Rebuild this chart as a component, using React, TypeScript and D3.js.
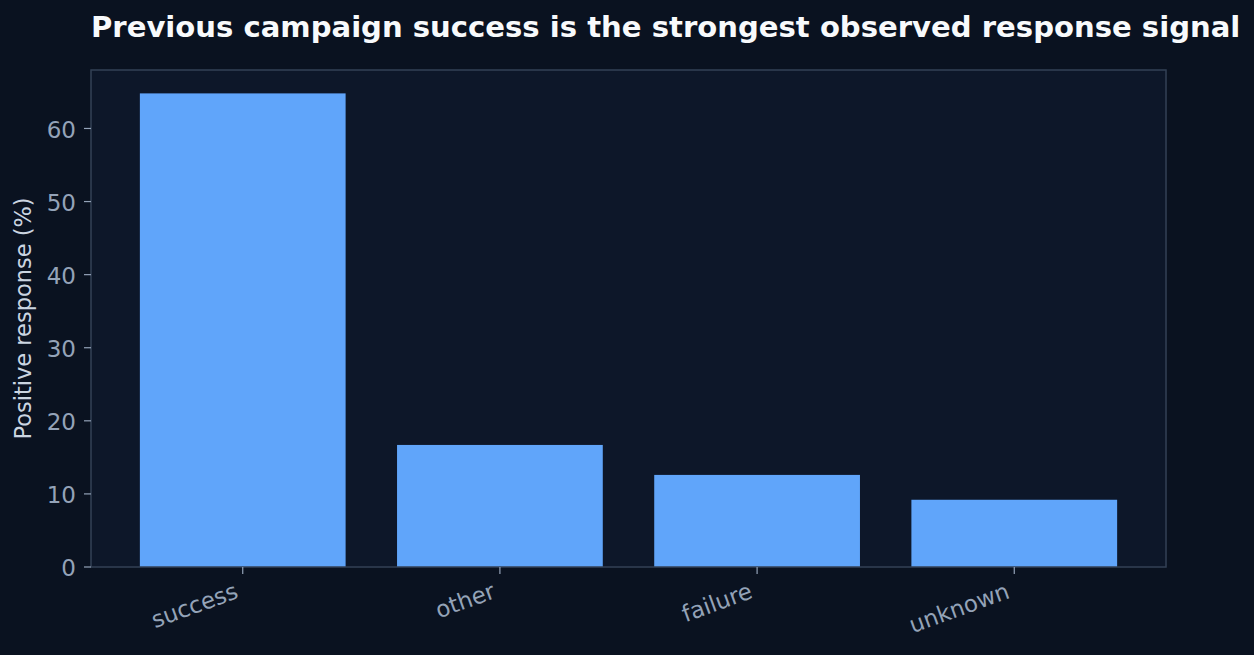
import React from "react";
import * as d3 from "d3";

const categories = ["success", "other", "failure", "unknown"];
const values = [64.8, 16.7, 12.6, 9.2];
const yTicks = [0, 10, 20, 30, 40, 50, 60];
const title = "Previous campaign success is the strongest observed response signal";
const yLabel = "Positive response (%)";

const W = 1254;
const H = 655;
const M = { left: 91, right: 1166, top: 70, bottom: 567 };

export default function App() {
  const x = d3
    .scaleLinear()
    .domain([-0.59, categories.length - 1 + 0.59])
    .range([M.left, M.right]);
  const y = d3.scaleLinear().domain([0, 68.0]).range([M.bottom, M.top]);
  const bw = x(0.4) - x(-0.4);
  const font = "'DejaVu Sans', sans-serif";
  return (
    <svg
      width={W}
      height={H}
      style={{ position: "absolute", left: 0, top: 0, display: "block" }}
    >
      <rect x={0} y={0} width={W} height={H} fill="#0a1220" />
      <rect
        x={M.left}
        y={M.top}
        width={M.right - M.left}
        height={M.bottom - M.top}
        fill="#0d1729"
      />
      {categories.map((c, i) => (
        <rect
          key={c}
          x={x(i) - bw / 2}
          y={y(values[i])}
          width={bw}
          height={y(0) - y(values[i])}
          fill="#60a5fa"
        />
      ))}
      <rect
        x={M.left}
        y={M.top}
        width={M.right - M.left}
        height={M.bottom - M.top}
        fill="none"
        stroke="#334155"
        strokeWidth={1.5}
      />
      {yTicks.map((t) => (
        <g key={t} transform={`translate(0,${y(t)})`}>
          <line x1={M.left - 7} x2={M.left} stroke="#94a3b8" strokeWidth={1.2} />
          <text
            x={M.left - 15}
            dy="0.41em"
            textAnchor="end"
            fontFamily={font}
            fontSize={23}
            fill="#94a3b8"
          >
            {t}
          </text>
        </g>
      ))}
      {categories.map((c, i) => (
        <g key={c} transform={`translate(${x(i)},${M.bottom})`}>
          <line y1={0} y2={7} stroke="#94a3b8" strokeWidth={1.2} />
          <text
            transform="translate(-9.2,14) rotate(-20)"
            textAnchor="end"
            dy="0.76em"
            fontFamily={font}
            fontSize={23}
            fill="#94a3b8"
          >
            {c}
          </text>
        </g>
      ))}
      <text
        transform={`translate(31,${(M.top + M.bottom) / 2}) rotate(-90)`}
        textAnchor="middle"
        fontFamily={font}
        fontSize={22.5}
        fill="#cbd5e1"
      >
        {yLabel}
      </text>
      <text
        x={M.left}
        y={37}
        fontFamily={font}
        fontSize={29.1}
        fontWeight="bold"
        fill="#f8fafc"
      >
        {title}
      </text>
    </svg>
  );
}
